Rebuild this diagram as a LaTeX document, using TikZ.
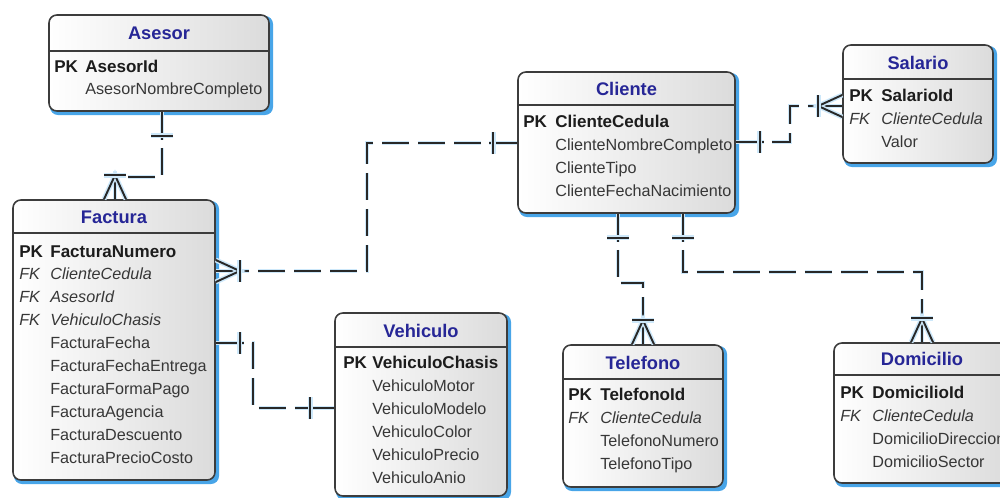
\documentclass[tikz,border=0pt]{standalone}
\usepackage{fontspec}
\setmainfont{Liberation Sans}
\usetikzlibrary{fit}

\definecolor{titleblue}{RGB}{38,38,150}
\definecolor{fieldgray}{RGB}{55,55,55}
\definecolor{pkblack}{RGB}{28,28,28}
\definecolor{framegray}{RGB}{60,60,60}
\definecolor{linegray}{RGB}{40,40,40}
\definecolor{shadowblue}{RGB}{72,165,232}
\definecolor{glowblue}{RGB}{205,232,250}

\tikzset{
  erframe/.style={draw=framegray, line width=0.9pt, rounded corners=4.5pt,
    left color=white, right color=black!14, inner sep=0pt},
  boxshadow/.style={fill=shadowblue, rounded corners=4.5pt},
  headrule/.style={draw=framegray, line width=1.1pt},
  ttl/.style={font=\fontsize{10.4}{12}\selectfont\bfseries, text=titleblue, anchor=base, inner sep=0pt},
  fld/.style={font=\fontsize{9.2}{11}\selectfont, text=fieldgray, anchor=base west, inner sep=0pt},
  pkname/.style={fld, font=\fontsize{9.7}{12}\selectfont\bfseries, text=pkblack},
  fkname/.style={fld, font=\fontsize{9.2}{11}\selectfont\itshape},
  relpattern/.style={dash pattern=on 15.5pt off 5pt},
  rel/.style={draw=linegray, line width=1.1pt, relpattern,
    preaction={draw=glowblue, line width=2.8pt, relpattern}},
  tie/.style={draw=linegray, line width=1.1pt,
    preaction={draw=glowblue, line width=2.8pt}},
  oneend/.pic={\draw[tie] (0,0) -- (28,0); \draw[tie] (24,-11) -- (24,11);},
  manyend/.pic={\draw[tie] (0,0) -- (28,0); \draw[tie] (0,-11) -- (24,0) -- (0,11);
    \draw[tie] (24,-11) -- (24,11);},
}

% entity box: name, x1, y1, x2, y2, header rule y, title, title centre y
\newcommand\erbox[8]{%
  \fill[boxshadow] (#2+1,#3+1) rectangle (#4+4,#5+4);
  \node[erframe, fit={(#2,#3) (#4,#5)}] (#1) {};
  \draw[headrule] (#1.west |- 0,#6) -- (#1.east |- 0,#6);
  \node[ttl] (#1-title) at ({(#2+#4)/2},#8+6.5) {#7};
}
% one text line of a box: name, x, centre y, style, text
\newcommand\rowat[5]{\node[#4] (#1) at (#2,#3+5.8) {#5};}

\begin{document}
\begin{tikzpicture}[x=0.02cm, y=-0.02cm]
\useasboundingbox (0,0) rectangle (1000,497);
\clip (0,0) rectangle (1000,497);

% ---------- Asesor ----------
\erbox{asesor}{49}{15}{269}{111}{51}{Asesor}{33}
\rowat{asesor-k1}{54}{67}{pkname}{PK}
\rowat{asesor-f1}{85}{67}{pkname}{AsesorId}
\rowat{asesor-f2}{85}{89}{fld}{AsesorNombreCompleto}

% ---------- Factura ----------
\erbox{factura}{13}{200}{215}{480}{233}{Factura}{217}
\rowat{factura-k1}{19}{252}{pkname}{PK}
\rowat{factura-f1}{50}{252}{pkname}{FacturaNumero}
\rowat{factura-k2}{19}{274}{fkname}{FK}
\rowat{factura-f2}{50}{274}{fkname}{ClienteCedula}
\rowat{factura-k3}{19}{297}{fkname}{FK}
\rowat{factura-f3}{50}{297}{fkname}{AsesorId}
\rowat{factura-k4}{19}{320}{fkname}{FK}
\rowat{factura-f4}{50}{320}{fkname}{VehiculoChasis}
\rowat{factura-f5}{50}{343}{fld}{FacturaFecha}
\rowat{factura-f6}{50}{366}{fld}{FacturaFechaEntrega}
\rowat{factura-f7}{50}{389}{fld}{FacturaFormaPago}
\rowat{factura-f8}{50}{412}{fld}{FacturaAgencia}
\rowat{factura-f9}{50}{435}{fld}{FacturaDescuento}
\rowat{factura-f10}{50}{458}{fld}{FacturaPrecioCosto}

% ---------- Vehiculo ----------
\erbox{vehiculo}{335}{313}{507}{496}{347}{Vehiculo}{331}
\rowat{vehiculo-k1}{343}{363}{pkname}{PK}
\rowat{vehiculo-f1}{372}{363}{pkname}{VehiculoChasis}
\rowat{vehiculo-f2}{372}{386}{fld}{VehiculoMotor}
\rowat{vehiculo-f3}{372}{409}{fld}{VehiculoModelo}
\rowat{vehiculo-f4}{372}{432}{fld}{VehiculoColor}
\rowat{vehiculo-f5}{372}{455}{fld}{VehiculoPrecio}
\rowat{vehiculo-f6}{372}{478}{fld}{VehiculoAnio}

% ---------- Cliente ----------
\erbox{cliente}{518}{72}{735}{213}{105}{Cliente}{89}
\rowat{cliente-k1}{523}{122}{pkname}{PK}
\rowat{cliente-f1}{555}{122}{pkname}{ClienteCedula}
\rowat{cliente-f2}{555}{145}{fld}{ClienteNombreCompleto}
\rowat{cliente-f3}{555}{168}{fld}{ClienteTipo}
\rowat{cliente-f4}{555}{191}{fld}{ClienteFechaNacimiento}

% ---------- Salario ----------
\erbox{salario}{843}{45}{993}{163}{79}{Salario}{63}
\rowat{salario-k1}{849}{96}{pkname}{PK}
\rowat{salario-f1}{881}{96}{pkname}{SalarioId}
\rowat{salario-k2}{849}{119}{fkname}{FK}
\rowat{salario-f2}{881}{119}{fkname}{ClienteCedula}
\rowat{salario-f3}{881}{142}{fld}{Valor}

% ---------- Telefono ----------
\erbox{telefono}{563}{345}{723}{487}{379}{Telefono}{363}
\rowat{telefono-k1}{568}{395}{pkname}{PK}
\rowat{telefono-f1}{600}{395}{pkname}{TelefonoId}
\rowat{telefono-k2}{568}{418}{fkname}{FK}
\rowat{telefono-f2}{600}{418}{fkname}{ClienteCedula}
\rowat{telefono-f3}{600}{441}{fld}{TelefonoNumero}
\rowat{telefono-f4}{600}{464}{fld}{TelefonoTipo}

% ---------- Domicilio (runs past the right edge) ----------
\erbox{domicilio}{834}{343}{1010}{483}{375}{Domicilio}{359}
\rowat{domicilio-k1}{840}{393}{pkname}{PK}
\rowat{domicilio-f1}{872}{393}{pkname}{DomicilioId}
\rowat{domicilio-k2}{840}{416}{fkname}{FK}
\rowat{domicilio-f2}{872}{416}{fkname}{ClienteCedula}
\rowat{domicilio-f3}{872}{439}{fld}{DomicilioDireccion}
\rowat{domicilio-f4}{872}{462}{fld}{DomicilioSector}

% ---------- relationships ----------
\draw[rel] (asesor.south -| 162,0) |- (115,177) -- (factura.north -| 115,0);
\pic[rotate=-90] at (asesor.south -| 162,0) {oneend};
\pic[rotate=90] at (factura.north -| 115,0) {manyend};

\draw[rel] (cliente.west |- 0,143) -| (367,271) -- (factura.east |- 0,271);
\pic[rotate=180] at (cliente.west |- 0,143) {oneend};
\pic at (factura.east |- 0,271) {manyend};

\draw[rel] (factura.east |- 0,343) -| (253,408) -- (vehiculo.west |- 0,408);
\pic at (factura.east |- 0,343) {oneend};
\pic[rotate=180] at (vehiculo.west |- 0,408) {oneend};

\draw[rel] (cliente.east |- 0,142) -| (790,106) -- (salario.west |- 0,106);
\pic at (cliente.east |- 0,142) {oneend};
\pic[rotate=180] at (salario.west |- 0,106) {manyend};

\draw[rel] (cliente.south -| 618,0) |- (643,283) -- (telefono.north -| 643,0);
\pic[rotate=-90] at (cliente.south -| 618,0) {oneend};
\pic[rotate=90] at (telefono.north -| 643,0) {manyend};

\draw[rel] (cliente.south -| 683,0) |- (922,272) -- (domicilio.north -| 922,0);
\pic[rotate=-90] at (cliente.south -| 683,0) {oneend};
\pic[rotate=90] at (domicilio.north -| 922,0) {manyend};
\end{tikzpicture}
\end{document}
